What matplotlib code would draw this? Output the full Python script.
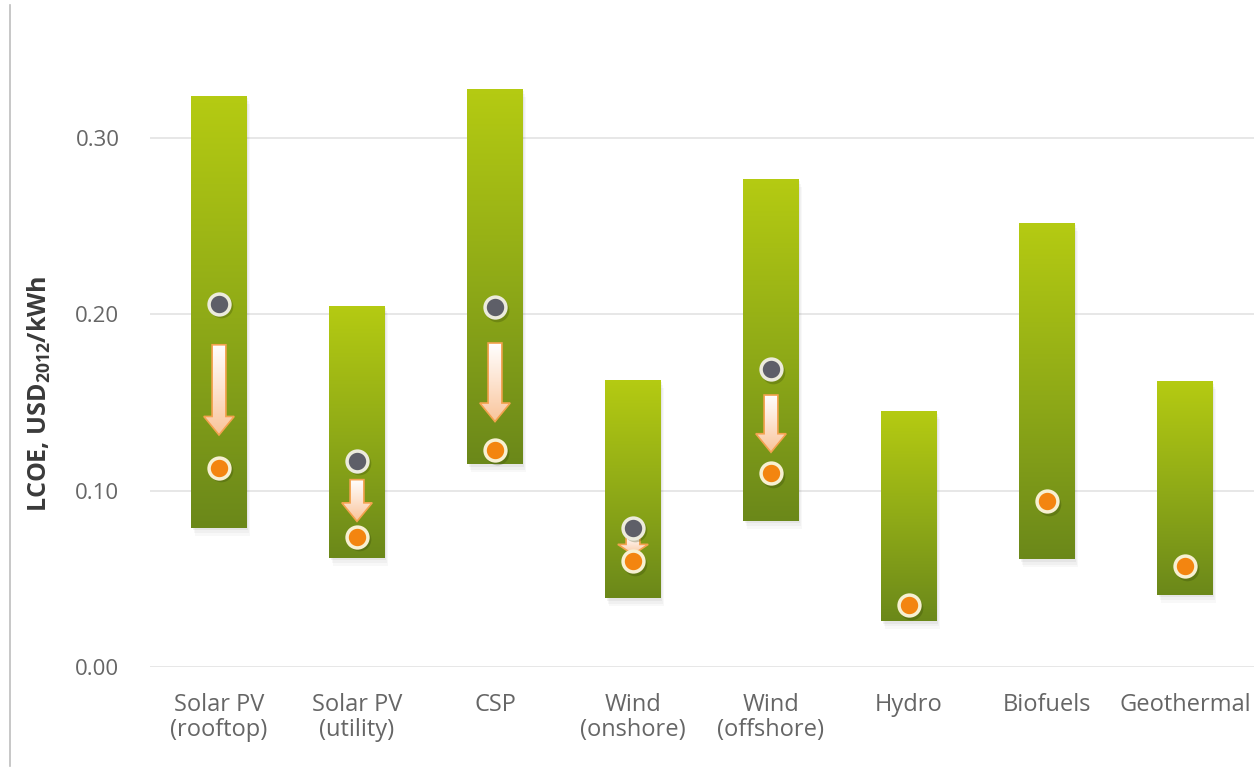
import numpy as np
import matplotlib
matplotlib.use("Agg")
import matplotlib.pyplot as plt
from matplotlib.colors import LinearSegmentedColormap
from matplotlib.patches import Rectangle, FancyArrow
from matplotlib.lines import Line2D

plt.rcParams['font.family'] = ['Open Sans', 'DejaVu Sans']

# LCOE ranges and weighted averages, USD2012/kWh
technologies = ["Solar PV\n(rooftop)", "Solar PV\n(utility)", "CSP", "Wind\n(onshore)",
                "Wind\n(offshore)", "Hydro", "Biofuels", "Geothermal"]
range_low = [0.079, 0.062, 0.115, 0.039, 0.083, 0.026, 0.061, 0.041]
range_high = [0.324, 0.205, 0.328, 0.163, 0.277, 0.145, 0.252, 0.162]
avg_2010 = [0.206, 0.117, 0.204, 0.079, 0.169, None, None, None]
avg_2014 = [0.113, 0.074, 0.123, 0.060, 0.110, 0.035, 0.094, 0.057]
yticks = [0.00, 0.10, 0.20, 0.30]

bar_cmap = LinearSegmentedColormap.from_list("bar", ["#6b881a", "#90ab17", "#b5cb12"])
arrow_cmap = LinearSegmentedColormap.from_list("arrow", ["#f9c49a", "#fde3cf", "#ffffff"])

fig = plt.figure(figsize=(12.54, 7.68), dpi=100)
ax = fig.add_axes([150 / 1254, 101 / 768, 1104 / 1254, 0.8265])
ax.set_xlim(-0.5, len(technologies) - 0.5)
ax.set_ylim(0, 0.36)

for y in yticks:
    ax.axhline(y, color="#e3e3e3", lw=1.2, zorder=0)

bw = 0.4
grad = np.linspace(0, 1, 256).reshape(-1, 1)
for i, (lo, hi) in enumerate(zip(range_low, range_high)):
    # soft shadow
    for k, a in enumerate([0.06, 0.04, 0.03]):
        off = 0.008 * (k + 1)
        ax.add_patch(Rectangle((i - bw / 2 + off, lo - 0.0015 * (k + 1)), bw, hi - lo,
                               color="#333333", alpha=a, lw=0, zorder=1))
    rect = Rectangle((i - bw / 2, lo), bw, hi - lo, lw=0, facecolor="none", zorder=2)
    ax.add_patch(rect)
    im = ax.imshow(grad, cmap=bar_cmap, origin="lower", aspect="auto",
                   extent=(i - bw / 2, i + bw / 2, lo, hi), zorder=2)
    im.set_clip_path(rect)

# arrows from the earlier average down to the newer one
for i, (a, b) in enumerate(zip(avg_2010, avg_2014)):
    if a is None:
        continue
    diff = a - b
    top = a - 0.25 * diff
    bot = b + 0.2 * diff
    length = top - bot
    hl = min(0.0105, 0.55 * length)
    arr = FancyArrow(i, top, 0, -length, width=0.1, head_width=0.22, head_length=hl,
                     length_includes_head=True, facecolor="none", edgecolor="#f4a24f",
                     lw=1.2, zorder=4)
    ax.add_patch(arr)
    im = ax.imshow(grad, cmap=arrow_cmap, origin="lower", aspect="auto",
                   extent=(i - 0.12, i + 0.12, bot, top), zorder=3)
    im.set_clip_path(arr)

x = np.arange(len(technologies))
old_x = [xi for xi, v in zip(x, avg_2010) if v is not None]
old_y = [v for v in avg_2010 if v is not None]
# dot shadows
ax.plot(np.array(old_x) + 0.015, np.array(old_y) - 0.0015, "o", ms=17, color="#2a3a05",
        alpha=0.25, mew=0, zorder=5)
ax.plot(x + 0.015, np.array(avg_2014) - 0.0015, "o", ms=17, color="#2a3a05",
        alpha=0.25, mew=0, zorder=5)
ax.plot(old_x, old_y, "o", ms=15, color="#5e5f68", mec="#ecebdc", mew=2.5, zorder=6)
ax.plot(x, avg_2014, "o", ms=15, color="#f38510", mec="#f7f0d2", mew=2.5, zorder=6)

ax.set_xticks(x)
ax.set_xticklabels(technologies, fontsize=17, color="#666666", linespacing=1.05)
ax.set_yticks(yticks)
ax.set_yticklabels([f"{v:.2f}" for v in yticks], fontsize=16, color="#666666")
ax.tick_params(axis="both", length=0)
ax.tick_params(axis="x", pad=19)
ax.tick_params(axis="y", pad=22)
for s in ax.spines.values():
    s.set_visible(False)

ax.set_ylabel("LCOE, USD$_{\\mathregular{2012}}$/kWh", fontsize=18, fontweight="bold",
              color="#3a3a3a")
ax.yaxis.set_label_coords(-0.088, 0.43)

fig.add_artist(Line2D([10 / 1254, 10 / 1254], [2 / 768, 763 / 768], color="#bdbdbd", lw=1.2))

fig.savefig("out.png", dpi=100, facecolor="white")
